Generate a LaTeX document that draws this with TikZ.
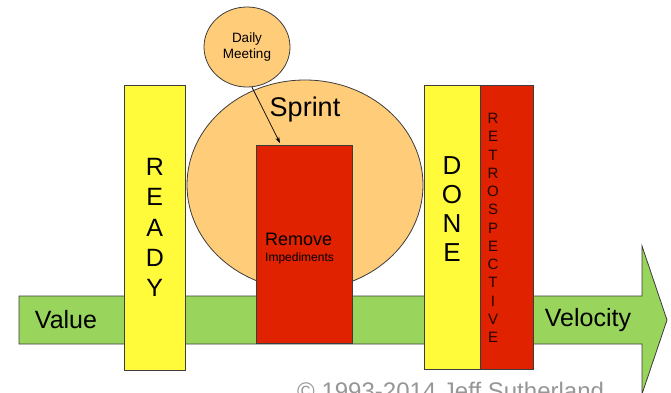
\documentclass[tikz,border=0pt]{standalone}
\usepackage{fontspec}
\setmainfont{Liberation Sans}
\usetikzlibrary{shapes.geometric,arrows.meta}
\definecolor{arrowgreen}{RGB}{153,212,92}
\definecolor{boxyellow}{RGB}{255,250,58}
\definecolor{boxred}{RGB}{224,34,0}
\definecolor{sprintorange}{RGB}{255,204,122}
\definecolor{edgegray}{RGB}{60,60,60}
\definecolor{copygray}{RGB}{150,150,150}
\tikzset{
  edge/.style={draw=edgegray, line width=0.8pt},
  bar/.style={edge, rectangle, inner sep=0pt},
  bubble/.style={edge, ellipse, fill=sprintorange, inner sep=0pt},
  lbl/.style={inner sep=0pt, text=black},
}
\begin{document}
\begin{tikzpicture}[x=1pt, y=-1pt]
\useasboundingbox (0,0) rectangle (671,392);
\clip (0,0) rectangle (671,392);
% value stream arrow
\draw[edge, fill=arrowgreen] (19,296) -- (642,296) -- (642,246) -- (667,320) -- (642,394) -- (642,344) -- (19,344) -- cycle;
\node[lbl, font=\fontsize{25}{30}\selectfont] (value) at (66,320) {Value};
\node[lbl, font=\fontsize{25}{30}\selectfont] (velocity) at (588,320) {Velocity};
% sprint
\node[bubble, minimum width=236pt, minimum height=210pt] (sprint) at (305,185) {};
\node[lbl, font=\fontsize{27}{30}\selectfont] (sprinttxt) at (305,110) {Sprint};
% daily meeting
\node[bubble, minimum width=86pt, minimum height=80pt, align=center, font=\fontsize{13.5}{16}\selectfont] (dm) at (247,47) {Daily\\Meeting};
\coordinate (dmend) at (280,143);
\draw[line width=0.7pt, black, -{Stealth[length=6pt,width=4pt]}] (dm.-83) -- (dmend);
% ready
\node[bar, fill=boxyellow, minimum width=61pt, minimum height=285pt, align=center, font=\fontsize{25}{30.25}\selectfont] (ready) at (154.8,227.5) {R\\E\\A\\D\\Y};
% done
\node[bar, fill=boxyellow, minimum width=56pt, minimum height=284pt] (done) at (452,227) {};
\node[lbl, align=center, font=\fontsize{26}{29.3}\selectfont] (donetxt) at (452,209) {D\\O\\N\\E};
% retrospective
\node[bar, fill=boxred, minimum width=53pt, minimum height=284pt] (retro) at (506.5,227) {};
\node[lbl, align=center, font=\fontsize{15}{18.25}\selectfont, text=black!85!boxred] (retrotxt) at (493,228) {R\\E\\T\\R\\O\\S\\P\\E\\C\\T\\I\\V\\E};
% remove impediments
\node[bar, fill=boxred, minimum width=96pt, minimum height=198pt] (remove) at (304.7,244) {};
\node[lbl, anchor=base west, font=\fontsize{18}{20}\selectfont] (removetxt) at (265,245) {Remove};
\node[lbl, anchor=base west, font=\fontsize{12}{14}\selectfont] (imptxt) at (265,261) {Impediments};
% copyright
\node[lbl, anchor=base west, text=copygray, font=\fontsize{24}{28}\selectfont] (copy) at (297,399) {© 1993-2014 Jeff Sutherland};
\end{tikzpicture}
\end{document}
